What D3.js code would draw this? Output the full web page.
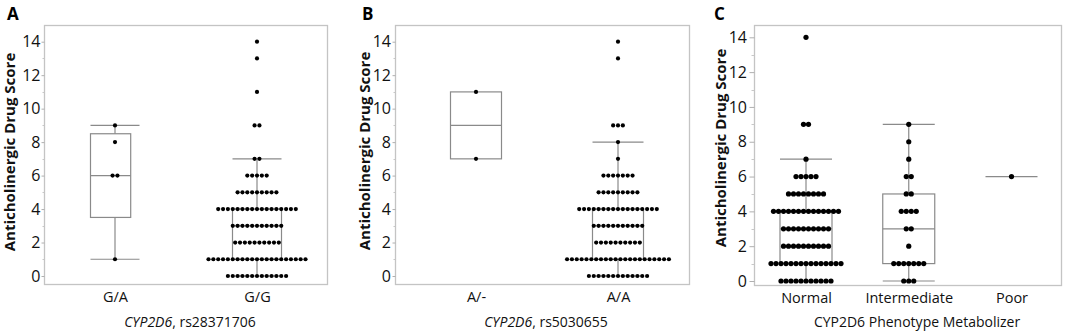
<!DOCTYPE html>
<html>
<head>
<meta charset="utf-8">
<script src="https://cdn.jsdelivr.net/npm/d3@7"></script>
<style>
  html, body { margin: 0; padding: 0; background: #fff; }
  svg { display: block; }
</style>
</head>
<body>
<svg id="chart" width="1065" height="331"></svg>
<script>
// puntajes posibles (eje y)
const scores = [0, 1, 2, 3, 4, 5, 6, 7, 8, 9, 10, 11, 12, 13, 14];

// Panel A: CYP2D6 rs28371706 (cantidad de pacientes por puntaje)
const catsA = ["G/A", "G/G"];
const countsGA = [0, 1, 0, 0, 0, 0, 2, 0, 1, 1, 0, 0, 0, 0, 0];
const countsGG = [13, 21, 10, 11, 17, 9, 5, 2, 0, 2, 0, 1, 0, 1, 1];

// Panel B: CYP2D6 rs5030655
const catsB = ["A/-", "A/A"];
const countsAdel = [0, 0, 0, 0, 0, 0, 0, 1, 0, 0, 0, 1, 0, 0, 0];
const countsAA = [13, 22, 10, 11, 17, 9, 7, 1, 1, 3, 0, 0, 0, 1, 1];

// Panel C: fenotipo metabolizador
const catsC = ["Normal", "Intermediate", "Poor"];
const countsNormal = [11, 15, 10, 10, 14, 8, 5, 1, 0, 2, 0, 0, 0, 0, 1];
const countsInter = [3, 7, 1, 2, 4, 2, 2, 1, 1, 1, 0, 0, 0, 0, 0];
const countsPoor = [0, 0, 0, 0, 0, 0, 1, 0, 0, 0, 0, 0, 0, 0, 0];

const yTicks = [0, 2, 4, 6, 8, 10, 12, 14];
const yMinorTicks = [1, 3, 5, 7, 9, 11, 13];

const svg = d3.select("#chart");
const fuente = "'Open Sans', sans-serif";
const gris = "#8a8a8a";

// expandir conteos en lista de valores
function valores(counts) {
    let v = [];
    counts.forEach((c, i) => { for (let k = 0; k < c; k++) v.push(scores[i]); });
    return v;
}

// cuantil estilo JMP, posicion (n+1)p
function cuantil(v, p) {
    let pos = (v.length + 1) * p;
    if (pos <= 1) return v[0];
    if (pos >= v.length) return v[v.length - 1];
    let lo = Math.floor(pos);
    let f = pos - lo;
    return v[lo - 1] + f * (v[lo] - v[lo - 1]);
}

function stats(counts) {
    let v = valores(counts).sort((a, b) => a - b);
    let q1 = cuantil(v, 0.25), med = cuantil(v, 0.5), q3 = cuantil(v, 0.75);
    let iqr = q3 - q1;
    let lo = d3.min(v.filter(d => d >= q1 - 1.5 * iqr));
    let hi = d3.max(v.filter(d => d <= q3 + 1.5 * iqr));
    return {q1, med, q3, lo, hi};
}

function drawPanel(p) {
    const g = svg.append("g");
    const y = d3.scaleLinear().domain([0, 14]).range(p.yRange);
    const x = d3.scalePoint().domain(p.cats).range(p.xRange);

    // marco
    g.append("rect")
        .attr("x", p.frame[0] + 0.5).attr("y", p.frame[1] + 0.5)
        .attr("width", p.frame[2] - p.frame[0]).attr("height", p.frame[3] - p.frame[1])
        .attr("fill", "none").attr("stroke", "#c4c4c4").attr("stroke-width", 1.3);

    // eje y
    const ejeY = g.append("g")
        .attr("transform", "translate(" + (p.frame[0] + 0.5) + ",0)")
        .call(d3.axisLeft(y).tickValues(yTicks).tickSize(p.tick).tickPadding(p.tickPad));
    ejeY.select(".domain").remove();
    ejeY.selectAll(".tick line").attr("stroke", "#b0b0b0");
    ejeY.selectAll(".tick text")
        .style("font-family", fuente).style("font-size", "16px").attr("fill", "#111");

    g.selectAll(".minor")
        .data(yMinorTicks).enter().append("line")
        .attr("x1", p.frame[0] - p.tick / 2).attr("x2", p.frame[0])
        .attr("y1", d => Math.round(y(d)) + 0.5).attr("y2", d => Math.round(y(d)) + 0.5)
        .attr("stroke", "#c8c8c8");

    // eje x
    const ejeX = g.append("g")
        .attr("transform", "translate(0," + p.frame[3] + ")")
        .call(d3.axisBottom(x).tickSize(0).tickPadding(8));
    ejeX.select(".domain").remove();
    ejeX.selectAll(".tick text")
        .style("font-family", fuente).style("font-size", "14.5px").attr("fill", "#111");

    // titulo eje y
    g.append("text")
        .attr("transform", "translate(" + p.yLabelX + "," + p.yLabelY + ") rotate(-90)")
        .attr("text-anchor", "middle").attr("dy", "0.35em")
        .style("font-family", fuente).style("font-size", "15px").style("font-weight", "bold")
        .attr("fill", "#111")
        .text("Anticholinergic Drug Score");

    // titulo eje x
    const tx = g.append("text")
        .attr("x", p.xLabelX).attr("y", 327)
        .attr("text-anchor", "middle")
        .style("font-family", fuente).style("font-size", "14px").attr("fill", "#111");
    p.xLabel.forEach(part => {
        tx.append("tspan").text(part.t).style("font-style", part.i ? "italic" : "normal");
    });

    // letra del panel
    g.append("text")
        .attr("x", p.letterX).attr("y", 20)
        .style("font-family", fuente).style("font-size", "17px").style("font-weight", "bold")
        .attr("fill", "#000")
        .text(p.letter);

    // cajas
    p.series.forEach((counts, k) => {
        const s = stats(counts);
        const cx = x(p.cats[k]);
        const hw = p.boxHalf;
        const bl = cx - hw, br = cx + (p.boxRight ? p.boxRight[k] : hw);
        const caja = g.append("g").attr("fill", "none").attr("stroke", gris).attr("stroke-width", 1.2);

        if (s.hi > s.q3) {
            caja.append("line").attr("x1", cx).attr("x2", cx).attr("y1", y(s.q3)).attr("y2", y(s.hi));
            caja.append("line").attr("x1", cx - hw).attr("x2", cx + hw).attr("y1", y(s.hi)).attr("y2", y(s.hi));
        }
        if (s.lo < s.q1) {
            caja.append("line").attr("x1", cx).attr("x2", cx).attr("y1", y(s.q1)).attr("y2", y(s.lo));
            caja.append("line").attr("x1", cx - hw).attr("x2", cx + hw).attr("y1", y(s.lo)).attr("y2", y(s.lo));
        }
        caja.append("rect")
            .attr("x", bl).attr("y", y(s.q3))
            .attr("width", br - bl).attr("height", y(s.q1) - y(s.q3));
        caja.append("line").attr("x1", bl).attr("x2", br).attr("y1", y(s.med)).attr("y2", y(s.med));

        // puntos apilados por fila
        let puntos = [];
        counts.forEach((c, i) => {
            for (let j = 0; j < c; j++) {
                puntos.push({px: cx + (j - (c - 1) / 2) * p.dotStep, py: y(scores[i])});
            }
        });
        g.append("g").selectAll("circle")
            .data(puntos).enter().append("circle")
            .attr("cx", d => d.px).attr("cy", d => d.py)
            .attr("r", p.dotR).attr("fill", "#000");
    });
}

drawPanel({
    letter: "A", letterX: 7,
    cats: catsA, series: [countsGA, countsGG],
    frame: [44, 25, 327, 284],
    yRange: [276, 41.7], xRange: [115, 257],
    tick: 3, tickPad: 1,
    boxHalf: 24.5, boxRight: [15.7, 24.5],
    dotR: 2.1, dotStep: 4.85,
    yLabelX: 10, yLabelY: 152,
    xLabelX: 190, xLabel: [{t: "CYP2D6", i: true}, {t: ", rs28371706", i: false}]
});

drawPanel({
    letter: "B", letterX: 362,
    cats: catsB, series: [countsAdel, countsAA],
    frame: [395, 25, 689, 284],
    yRange: [276, 41.7], xRange: [476, 618],
    tick: 3, tickPad: 1.5,
    boxHalf: 25.5,
    dotR: 2.1, dotStep: 4.85,
    yLabelX: 364.5, yLabelY: 151,
    xLabelX: 546, xLabel: [{t: "CYP2D6", i: true}, {t: ", rs5030655", i: false}]
});

drawPanel({
    letter: "C", letterX: 714,
    cats: catsC, series: [countsNormal, countsInter, countsPoor],
    frame: [754, 25, 1061, 285],
    yRange: [281, 37.3], xRange: [806, 1011.5],
    tick: 5, tickPad: 2.5,
    boxHalf: 26,
    dotR: 2.6, dotStep: 5.0,
    yLabelX: 720.5, yLabelY: 148,
    xLabelX: 917, xLabel: [{t: "CYP2D6 Phenotype Metabolizer", i: false}]
});
</script>
</body>
</html>
